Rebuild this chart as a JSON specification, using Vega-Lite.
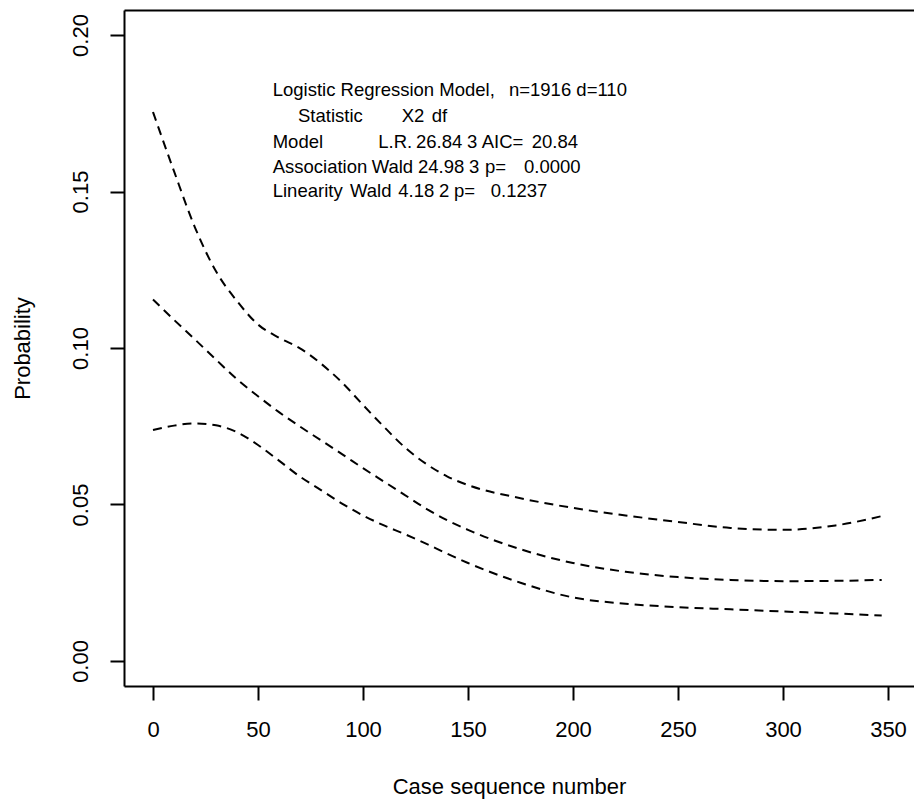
{
  "$schema": "https://vega.github.io/schema/vega-lite/v6.json",
  "width": 790,
  "height": 676,
  "autosize": {"type": "none"},
  "padding": {"left": 124, "top": 10, "right": 0, "bottom": 114},
  "background": "white",
  "config": {
    "view": {"stroke": null},
    "font": "Liberation Sans",
    "axis": {
      "grid": false,
      "domainColor": "black",
      "domainWidth": 2,
      "tickColor": "black",
      "tickWidth": 2,
      "tickSize": 14,
      "labelColor": "black",
      "titleColor": "black",
      "labelFont": "Liberation Sans",
      "titleFont": "Liberation Sans",
      "titleFontWeight": "normal"
    }
  },
  "datasets": {
    "curves": [
      {"x": 0, "prob": 0.1754, "series": "upper"},
      {"x": 10, "prob": 0.1565, "series": "upper"},
      {"x": 20, "prob": 0.1385, "series": "upper"},
      {"x": 30, "prob": 0.1245, "series": "upper"},
      {"x": 40, "prob": 0.1150, "series": "upper"},
      {"x": 50, "prob": 0.1075, "series": "upper"},
      {"x": 60, "prob": 0.1033, "series": "upper"},
      {"x": 70, "prob": 0.0999, "series": "upper"},
      {"x": 80, "prob": 0.0950, "series": "upper"},
      {"x": 90, "prob": 0.0890, "series": "upper"},
      {"x": 100, "prob": 0.0818, "series": "upper"},
      {"x": 110, "prob": 0.0748, "series": "upper"},
      {"x": 120, "prob": 0.0682, "series": "upper"},
      {"x": 130, "prob": 0.0630, "series": "upper"},
      {"x": 140, "prob": 0.0590, "series": "upper"},
      {"x": 150, "prob": 0.0562, "series": "upper"},
      {"x": 175, "prob": 0.0520, "series": "upper"},
      {"x": 200, "prob": 0.0489, "series": "upper"},
      {"x": 225, "prob": 0.0465, "series": "upper"},
      {"x": 250, "prob": 0.0444, "series": "upper"},
      {"x": 275, "prob": 0.0425, "series": "upper"},
      {"x": 300, "prob": 0.0419, "series": "upper"},
      {"x": 325, "prob": 0.0433, "series": "upper"},
      {"x": 349, "prob": 0.0466, "series": "upper"},
      {"x": 0, "prob": 0.1155, "series": "fit"},
      {"x": 10, "prob": 0.1090, "series": "fit"},
      {"x": 20, "prob": 0.1027, "series": "fit"},
      {"x": 30, "prob": 0.0963, "series": "fit"},
      {"x": 40, "prob": 0.0900, "series": "fit"},
      {"x": 50, "prob": 0.0846, "series": "fit"},
      {"x": 60, "prob": 0.0795, "series": "fit"},
      {"x": 70, "prob": 0.0749, "series": "fit"},
      {"x": 80, "prob": 0.0705, "series": "fit"},
      {"x": 90, "prob": 0.0661, "series": "fit"},
      {"x": 100, "prob": 0.0616, "series": "fit"},
      {"x": 110, "prob": 0.0573, "series": "fit"},
      {"x": 120, "prob": 0.0530, "series": "fit"},
      {"x": 130, "prob": 0.0487, "series": "fit"},
      {"x": 140, "prob": 0.0450, "series": "fit"},
      {"x": 150, "prob": 0.0419, "series": "fit"},
      {"x": 175, "prob": 0.0357, "series": "fit"},
      {"x": 200, "prob": 0.0313, "series": "fit"},
      {"x": 225, "prob": 0.0285, "series": "fit"},
      {"x": 250, "prob": 0.0268, "series": "fit"},
      {"x": 275, "prob": 0.0259, "series": "fit"},
      {"x": 300, "prob": 0.0255, "series": "fit"},
      {"x": 325, "prob": 0.0256, "series": "fit"},
      {"x": 347, "prob": 0.0259, "series": "fit"},
      {"x": 0, "prob": 0.0738, "series": "lower"},
      {"x": 10, "prob": 0.0752, "series": "lower"},
      {"x": 20, "prob": 0.0759, "series": "lower"},
      {"x": 30, "prob": 0.0753, "series": "lower"},
      {"x": 40, "prob": 0.0731, "series": "lower"},
      {"x": 50, "prob": 0.0690, "series": "lower"},
      {"x": 60, "prob": 0.0640, "series": "lower"},
      {"x": 70, "prob": 0.0589, "series": "lower"},
      {"x": 80, "prob": 0.0546, "series": "lower"},
      {"x": 90, "prob": 0.0503, "series": "lower"},
      {"x": 100, "prob": 0.0465, "series": "lower"},
      {"x": 110, "prob": 0.0433, "series": "lower"},
      {"x": 120, "prob": 0.0405, "series": "lower"},
      {"x": 130, "prob": 0.0375, "series": "lower"},
      {"x": 140, "prob": 0.0343, "series": "lower"},
      {"x": 150, "prob": 0.0313, "series": "lower"},
      {"x": 175, "prob": 0.0250, "series": "lower"},
      {"x": 200, "prob": 0.0203, "series": "lower"},
      {"x": 225, "prob": 0.0183, "series": "lower"},
      {"x": 250, "prob": 0.0172, "series": "lower"},
      {"x": 275, "prob": 0.0165, "series": "lower"},
      {"x": 300, "prob": 0.0158, "series": "lower"},
      {"x": 325, "prob": 0.0152, "series": "lower"},
      {"x": 347, "prob": 0.0145, "series": "lower"}
    ],
    "notes": [
      {"x": 57.0, "y": 0.18051, "label": "Logistic Regression Model,"},
      {"x": 169.5, "y": 0.18051, "label": "n=1916 d=110"},
      {"x": 69.05, "y": 0.17220, "label": "Statistic"},
      {"x": 118.43, "y": 0.17220, "label": "X2"},
      {"x": 132.71, "y": 0.17220, "label": "df"},
      {"x": 57.0, "y": 0.16390, "label": "Model"},
      {"x": 107.29, "y": 0.16390, "label": "L.R."},
      {"x": 125.2, "y": 0.16390, "label": "26.84"},
      {"x": 149.5, "y": 0.16390, "label": "3"},
      {"x": 156.52, "y": 0.16390, "label": "AIC="},
      {"x": 180.33, "y": 0.16390, "label": "20.84"},
      {"x": 57.0, "y": 0.15591, "label": "Association"},
      {"x": 104.14, "y": 0.15591, "label": "Wald"},
      {"x": 126.2, "y": 0.15591, "label": "24.98"},
      {"x": 150.5, "y": 0.15591, "label": "3"},
      {"x": 158.1, "y": 0.15591, "label": "p="},
      {"x": 176.67, "y": 0.15591, "label": "0.0000"},
      {"x": 57.0, "y": 0.14824, "label": "Linearity"},
      {"x": 93.81, "y": 0.14824, "label": "Wald"},
      {"x": 116.81, "y": 0.14824, "label": "4.18"},
      {"x": 136.2, "y": 0.14824, "label": "2"},
      {"x": 143.3, "y": 0.14824, "label": "p="},
      {"x": 160.81, "y": 0.14824, "label": "0.1237"}
    ]
  },
  "layer": [
    {
      "data": {"name": "curves"},
      "mark": {"type": "line", "color": "black", "strokeWidth": 2, "strokeDash": [9, 6], "interpolate": "monotone", "clip": true},
      "encoding": {
        "x": {
          "field": "x", "type": "quantitative",
          "scale": {"domain": [-13.81, 362.38], "nice": false, "zero": false},
          "axis": {
            "orient": "bottom",
            "values": [0, 50, 100, 150, 200, 250, 300, 350],
            "labelFontSize": 22,
            "labelBaseline": "top",
            "labelPadding": 19,
            "labelFlush": false,
            "labelOverlap": false,
            "title": "Case sequence number",
            "titleFontSize": 22,
            "titleBaseline": "alphabetic",
            "titleX": 385,
            "titleY": 107
          }
        },
        "y": {
          "field": "prob", "type": "quantitative",
          "scale": {"domain": [-0.008, 0.208], "nice": false, "zero": false},
          "axis": {
            "values": [0, 0.05, 0.1, 0.15, 0.2],
            "format": ".2f",
            "labelFontSize": 22,
            "labelAngle": 270,
            "labelAlign": "center",
            "labelBaseline": "alphabetic",
            "labelPadding": 23,
            "labelFlush": false,
            "labelOverlap": false,
            "title": "Probability",
            "titleFontSize": 22,
            "titleAngle": 270,
            "titleAlign": "center",
            "titleBaseline": "alphabetic",
            "titleX": -95,
            "titleY": 338
          }
        },
        "detail": {"field": "series"}
      }
    },
    {
      "data": {"name": "notes"},
      "mark": {"type": "text", "align": "left", "baseline": "alphabetic", "fontSize": 18.5, "font": "Liberation Sans", "color": "black"},
      "encoding": {
        "x": {
          "field": "x", "type": "quantitative",
          "axis": {"orient": "top", "labels": false, "ticks": false, "title": null}
        },
        "y": {"field": "y", "type": "quantitative"},
        "text": {"field": "label"}
      }
    }
  ],
  "resolve": {"axis": {"x": "independent"}}
}
